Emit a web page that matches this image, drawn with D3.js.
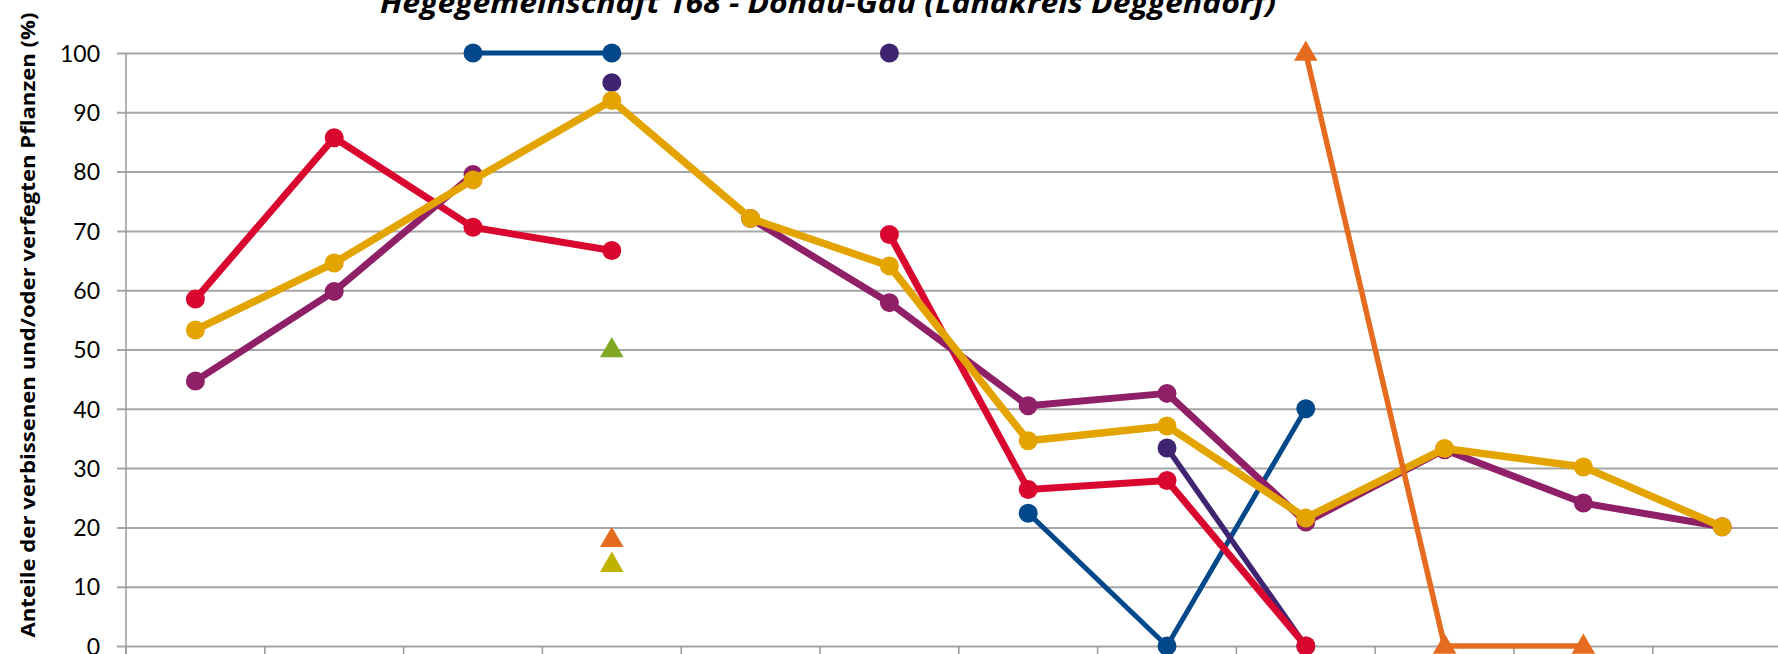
<!DOCTYPE html>
<html>
<head>
<meta charset="utf-8">
<script src="https://cdn.jsdelivr.net/npm/d3@7"></script>
<style>
  body { margin: 0; background: #fff; }
  svg { display: block; }
</style>
</head>
<body>
<div class="chart"></div>
<script>
// categories (x labels fall outside the visible crop)
const categories = ['K1', 'K2', 'K3', 'K4', 'K5', 'K6', 'K7', 'K8', 'K9', 'K10', 'K11', 'K12', 'K13'];
const yTicks = [0, 10, 20, 30, 40, 50, 60, 70, 80, 90, 100];

const blueValues    = [null, null, 100, 100, null, null, 22.4, 0, 40.0, null, null, null, null];
const indigoValues  = [null, null, null, 95, null, 100, null, 33.4, 0, null, null, null, null];
const redValues     = [58.5, 85.7, 70.6, 66.7, null, 69.4, 26.4, 27.9, 0, null, null, null, null];
const magentaValues = [44.7, 59.8, 79.5, null, 72.1, 57.9, 40.5, 42.6, 20.9, 33.1, 24.1, 20.1, null];
const goldValues    = [53.3, 64.6, 78.6, 92.0, 72.1, 64.1, 34.6, 37.1, 21.6, 33.3, 30.2, 20.1, null];
const orangeValues  = [null, null, null, 18.0, null, null, null, null, 100, 0, 0, null, null];
const greenValues   = [null, null, null, 50.0, null, null, null, null, null, null, null, null, null];
const oliveValues   = [null, null, null, 13.8, null, null, null, null, null, null, null, null, null];

const series = [
    {name: 'blue', values: blueValues, color: '#00488a', width: 5, shape: 'circle'},
    {name: 'indigo', values: indigoValues, color: '#3f2471', width: 5.5, shape: 'circle'},
    {name: 'red', values: redValues, color: '#d9072f', width: 7, shape: 'circle'},
    {name: 'magenta', values: magentaValues, color: '#8f2067', width: 7, shape: 'circle'},
    {name: 'gold', values: goldValues, color: '#e4a400', width: 7.5, shape: 'circle'},
    {name: 'orange', values: orangeValues, color: '#e56b1f', width: 5.5, shape: 'triangle'},
    {name: 'green', values: greenValues, color: '#80a822', width: 5, shape: 'triangle'},
    {name: 'olive', values: oliveValues, color: '#c1b100', width: 5, shape: 'triangle'}
];

const width = 1778;
const height = 654;
const margin = ({top: 53, bottom: 8, left: 126});
const step = 138.8;

const svg = d3.select('.chart')
    .append('svg')
    .attr('width', width)
    .attr('height', height);

const xScale = d3.scaleBand()
    .domain(categories)
    .range([margin.left, margin.left + categories.length * step]);

const yScale = d3.scaleLinear()
    .domain([0, 100])
    .range([height - margin.bottom, margin.top]);

// horizontal gridlines + y labels
const yAxis = d3.axisLeft(yScale)
    .tickValues(yTicks)
    .tickSize(-(width - margin.left))
    .tickPadding(0);

const yGroup = svg.append('g')
    .attr('class', 'axis y-axis')
    .attr('transform', 'translate(' + margin.left + ',0)')
    .call(yAxis)
    .call(g => g.select('.domain').remove());

yGroup.selectAll('.tick line')
    .attr('x1', -9)
    .attr('stroke', '#a6a6a6')
    .attr('stroke-width', 2);

yGroup.selectAll('.tick text')
    .attr('x', -26)
    .attr('dy', '0.36em')
    .attr('fill', '#000')
    .attr('font-family', 'Lato, "Open Sans", sans-serif')
    .attr('font-size', 23);

// y axis line
svg.append('line')
    .attr('x1', margin.left).attr('x2', margin.left)
    .attr('y1', margin.top).attr('y2', height)
    .attr('stroke', '#999')
    .attr('stroke-width', 1.5);

// x axis with category boundary ticks
const xAxis = d3.axisBottom(xScale)
    .tickSize(0)
    .tickFormat('');

svg.append('g')
    .attr('class', 'axis x-axis')
    .attr('transform', 'translate(0,' + yScale(0) + ')')
    .call(xAxis)
    .call(g => g.select('.domain').remove())
    .call(g => g.selectAll('.tick').remove())
    .call(g => g.selectAll('line.bound')
        .data(categories)
        .enter()
        .append('line')
        .attr('class', 'bound')
        .attr('x1', d => xScale(d)).attr('x2', d => xScale(d))
        .attr('y1', 0).attr('y2', 10)
        .attr('stroke', '#999')
        .attr('stroke-width', 1.5));

const line = d3.line()
    .defined(d => d.v != null)
    .x(d => xScale(d.c) + xScale.bandwidth() / 2)
    .y(d => yScale(d.v));

const triangle = d3.symbol().type(d3.symbolTriangle).size(240);

series.forEach(s => {
    const pts = categories.map((c, i) => ({c: c, v: s.values[i]}));
    const g = svg.append('g').attr('class', 'series ' + s.name);

    g.append('path')
        .datum(pts)
        .attr('d', line)
        .attr('fill', 'none')
        .attr('stroke', s.color)
        .attr('stroke-width', s.width)
        .attr('stroke-linejoin', 'round');

    const defined = pts.filter(d => d.v != null);
    if (s.shape === 'circle') {
        g.selectAll('circle')
            .data(defined)
            .enter()
            .append('circle')
            .attr('cx', d => xScale(d.c) + xScale.bandwidth() / 2)
            .attr('cy', d => yScale(d.v))
            .attr('r', 9.5)
            .attr('fill', s.color);
    } else {
        g.selectAll('path.marker')
            .data(defined)
            .enter()
            .append('path')
            .attr('class', 'marker')
            .attr('d', triangle)
            .attr('transform', d => 'translate(' + (xScale(d.c) + xScale.bandwidth() / 2) + ',' + (yScale(d.v) + 1) + ')')
            .attr('fill', s.color);
    }
});

// title (top is cut off in the reference)
svg.append('text')
    .attr('x', 828)
    .attr('y', 13)
    .attr('text-anchor', 'middle')
    .attr('font-family', '"Open Sans", sans-serif')
    .attr('font-weight', 'bold')
    .attr('font-style', 'italic')
    .attr('font-size', 28)
    .attr('textLength', 896)
    .attr('lengthAdjust', 'spacingAndGlyphs')
    .text('Hegegemeinschaft 168 - Donau-Gau (Landkreis Deggendorf)');

// y axis title
svg.append('text')
    .attr('transform', 'translate(35,325) rotate(-90)')
    .attr('text-anchor', 'middle')
    .attr('font-family', '"Open Sans", sans-serif')
    .attr('font-weight', 'bold')
    .attr('font-size', 20)
    .attr('textLength', 625)
    .attr('lengthAdjust', 'spacingAndGlyphs')
    .text('Anteile der verbissenen und/oder verfegten Pflanzen (%)');
</script>
</body>
</html>
